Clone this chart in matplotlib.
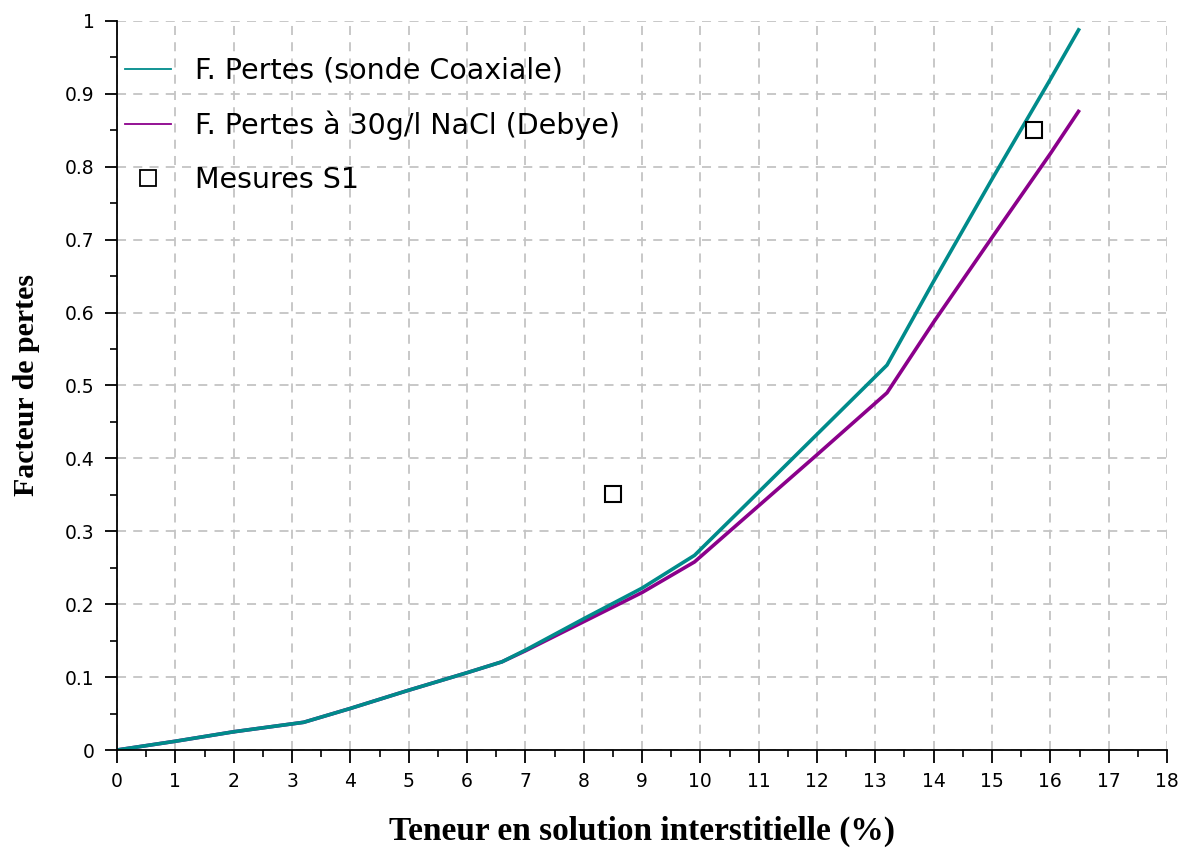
import matplotlib
matplotlib.use("Agg")
import matplotlib.pyplot as plt
from matplotlib.lines import Line2D
from matplotlib.ticker import MultipleLocator

# teneur (%) -> facteur de pertes
x_coax = [0, 1, 2, 3.2, 4, 5, 6, 6.6, 7, 8, 9, 9.9, 10.8, 12, 13.2, 14, 15, 16, 16.5]
y_coax = [0, 0.012, 0.025, 0.038, 0.057, 0.082, 0.106, 0.121, 0.137, 0.180, 0.222, 0.267,
          0.338, 0.433, 0.528, 0.643, 0.783, 0.920, 0.990]
x_debye = [0, 1, 2, 3.2, 4, 5, 6, 6.6, 7, 8, 9, 9.9, 11.1, 12, 13.2, 14, 15, 16, 16.5]
y_debye = [0, 0.012, 0.025, 0.038, 0.057, 0.082, 0.106, 0.121, 0.136, 0.176, 0.216, 0.258,
           0.342, 0.405, 0.490, 0.587, 0.703, 0.818, 0.878]
x_mes = [8.5, 15.72]
y_mes = [0.351, 0.850]

labels = ["F. Pertes (sonde Coaxiale)", "F. Pertes à 30g/l NaCl (Debye)", "Mesures S1"]
teal = "#008b8b"
purple = "#8b008b"

fig = plt.figure(figsize=(11.84, 8.48), dpi=100)
ax = fig.add_axes([117 / 1184, 1 - 750 / 848, 1050 / 1184, 729 / 848])

ax.plot(x_debye, y_debye, color=purple, lw=2.6, solid_capstyle="butt")
ax.plot(x_coax, y_coax, color=teal, lw=2.6, solid_capstyle="butt")
ax.plot(x_mes, y_mes, ls="none", marker="s", ms=12, mfc="none", mec="black", mew=1.5)

ax.set_xlim(0, 18)
ax.set_ylim(0, 1)
ax.xaxis.set_major_locator(MultipleLocator(1))
ax.xaxis.set_minor_locator(MultipleLocator(0.5))
ax.yaxis.set_major_locator(MultipleLocator(0.1))
ax.yaxis.set_minor_locator(MultipleLocator(0.05))
ax.yaxis.set_major_formatter(plt.FuncFormatter(lambda v, p: "0" if v == 0 else ("1" if v == 1 else "%.1f" % v)))

ax.grid(True, which="major", color="#c4c4c4", ls=(0, (5, 4)), lw=1.3)
ax.set_axisbelow(True)
for s in ["top", "right"]:
    ax.spines[s].set_visible(False)
ax.spines["left"].set_linewidth(1.3)
ax.spines["bottom"].set_linewidth(1.3)
ax.tick_params(which="major", direction="out", length=9, width=1.3, labelsize=13.5, pad=7)
ax.tick_params(which="minor", direction="out", length=5, width=1.2)

ax.set_xlabel("Teneur en solution interstitielle (%)", family="Liberation Serif",
              fontweight="bold", fontsize=24, labelpad=18)
ax.set_ylabel("Facteur de pertes", family="Liberation Serif",
              fontweight="bold", fontsize=21.5, labelpad=18)

handles = [Line2D([], [], color=teal, lw=1.3),
           Line2D([], [], color=purple, lw=1.3),
           Line2D([], [], ls="none", marker="s", ms=11, mfc="none", mec="black", mew=1.3)]
ax.legend(handles, labels, loc="upper left", bbox_to_anchor=(125 / 1184, 1 - 57 / 848),
          bbox_transform=fig.transFigure, frameon=False, borderpad=0, borderaxespad=0,
          prop={"family": "DejaVu Sans", "size": 20.5}, handlelength=1.6,
          handletextpad=0.85, labelspacing=0.9)

fig.savefig("out.png", dpi=100)
